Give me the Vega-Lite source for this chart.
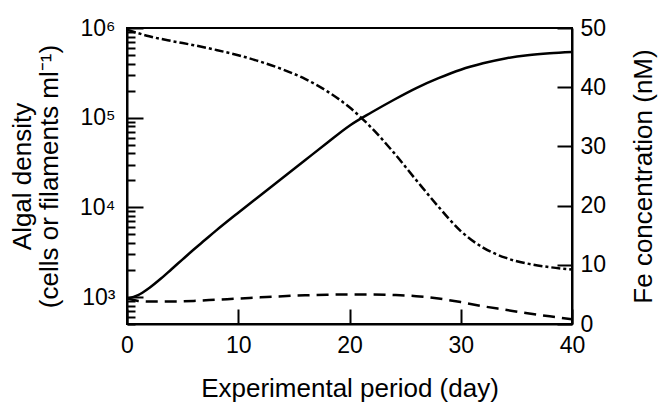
{
  "$schema": "https://vega.github.io/schema/vega-lite/v6.json",
  "width": 445,
  "height": 296,
  "autosize": "none",
  "padding": {"left": 127, "top": 28, "right": 87, "bottom": 79},
  "background": "white",
  "config": {
    "font": "Liberation Sans",
    "view": {"stroke": "black", "strokeWidth": 2},
    "axis": {
      "grid": false,
      "domainColor": "black",
      "domainWidth": 2,
      "tickColor": "black",
      "tickWidth": 2,
      "labelFont": "Liberation Sans",
      "labelFontSize": 23,
      "labelColor": "black",
      "titleFont": "Liberation Sans",
      "titleFontSize": 26,
      "titleFontWeight": "normal",
      "titleColor": "black",
      "labelFlush": false,
      "labelOverlap": false
    }
  },
  "datasets": {
    "algae": [
      {"day": 0, "density": 955},
      {"day": 1, "density": 1047},
      {"day": 2, "density": 1259},
      {"day": 3, "density": 1585},
      {"day": 4, "density": 2042},
      {"day": 5, "density": 2630},
      {"day": 6, "density": 3388},
      {"day": 7, "density": 4315},
      {"day": 8, "density": 5495},
      {"day": 10, "density": 8710},
      {"day": 12, "density": 13650},
      {"day": 14, "density": 21380},
      {"day": 16, "density": 33500},
      {"day": 18, "density": 52500},
      {"day": 20, "density": 81300},
      {"day": 22, "density": 114800},
      {"day": 24, "density": 158500},
      {"day": 26, "density": 213800},
      {"day": 28, "density": 275400},
      {"day": 30, "density": 342800},
      {"day": 32, "density": 404000},
      {"day": 34, "density": 458000},
      {"day": 36, "density": 497000},
      {"day": 38, "density": 523000},
      {"day": 40, "density": 540000}
    ],
    "fe": [
      {"day": 0, "series": "a", "fe": 49.7},
      {"day": 2, "series": "a", "fe": 48.6},
      {"day": 4, "series": "a", "fe": 47.8},
      {"day": 6, "series": "a", "fe": 47.1},
      {"day": 8, "series": "a", "fe": 46.3},
      {"day": 10, "series": "a", "fe": 45.4},
      {"day": 12, "series": "a", "fe": 44.3},
      {"day": 14, "series": "a", "fe": 43.0},
      {"day": 16, "series": "a", "fe": 41.4},
      {"day": 18, "series": "a", "fe": 39.3},
      {"day": 20, "series": "a", "fe": 36.6},
      {"day": 22, "series": "a", "fe": 33.1},
      {"day": 24, "series": "a", "fe": 28.9},
      {"day": 26, "series": "a", "fe": 24.3},
      {"day": 28, "series": "a", "fe": 19.8},
      {"day": 30, "series": "a", "fe": 15.7},
      {"day": 32, "series": "a", "fe": 12.9},
      {"day": 34, "series": "a", "fe": 11.2},
      {"day": 36, "series": "a", "fe": 10.2},
      {"day": 38, "series": "a", "fe": 9.6},
      {"day": 40, "series": "a", "fe": 9.2},
      {"day": 0, "series": "b", "fe": 4.3},
      {"day": 1, "series": "b", "fe": 3.9},
      {"day": 2, "series": "b", "fe": 3.8},
      {"day": 4, "series": "b", "fe": 3.8},
      {"day": 6, "series": "b", "fe": 3.9},
      {"day": 8, "series": "b", "fe": 4.1},
      {"day": 10, "series": "b", "fe": 4.3},
      {"day": 12, "series": "b", "fe": 4.5},
      {"day": 14, "series": "b", "fe": 4.7},
      {"day": 16, "series": "b", "fe": 4.85},
      {"day": 18, "series": "b", "fe": 4.95},
      {"day": 20, "series": "b", "fe": 5.0},
      {"day": 22, "series": "b", "fe": 5.0},
      {"day": 24, "series": "b", "fe": 4.9},
      {"day": 26, "series": "b", "fe": 4.7},
      {"day": 28, "series": "b", "fe": 4.3},
      {"day": 30, "series": "b", "fe": 3.7},
      {"day": 32, "series": "b", "fe": 3.0},
      {"day": 34, "series": "b", "fe": 2.4},
      {"day": 36, "series": "b", "fe": 1.8},
      {"day": 38, "series": "b", "fe": 1.3},
      {"day": 40, "series": "b", "fe": 0.8}
    ]
  },
  "layer": [
    {
      "data": {"name": "algae"},
      "mark": {"type": "line", "color": "black", "strokeWidth": 2.5, "interpolate": "monotone", "clip": true},
      "encoding": {
        "x": {
          "field": "day", "type": "quantitative",
          "scale": {"domain": [0, 40], "nice": false},
          "axis": {
            "values": [0, 10, 20, 30, 40],
            "tickSize": -15,
            "labelPadding": 25,
            "title": "Experimental period (day)",
            "titlePadding": 18
          }
        },
        "y": {
          "field": "density", "type": "quantitative",
          "scale": {"type": "log", "domain": [500, 1000000], "nice": false},
          "axis": {
            "values": [500, 600, 700, 800, 900, 1000, 2000, 3000, 4000, 5000, 6000, 7000, 8000, 9000, 10000, 20000, 30000, 40000, 50000, 60000, 70000, 80000, 90000, 100000, 200000, 300000, 400000, 500000, 600000, 700000, 800000, 900000, 1000000],
            "tickSize": {"condition": {"test": "datum.value == 1000 || datum.value == 10000 || datum.value == 100000 || datum.value == 1000000", "value": -16}, "value": -8},
            "labelPadding": 28,
            "labelExpr": "datum.value == 1000 ? '10³' : datum.value == 10000 ? '10⁴' : datum.value == 100000 ? '10⁵' : datum.value == 1000000 ? '10⁶' : ''",
            "title": ["Algal density", "(cells or filaments ml⁻¹)"],
            "titlePadding": 17,
            "titleLineHeight": 27
          }
        }
      }
    },
    {
      "data": {"name": "fe"},
      "mark": {"type": "line", "color": "black", "strokeWidth": 2.5, "interpolate": "monotone", "clip": true},
      "encoding": {
        "x": {"field": "day", "type": "quantitative"},
        "y": {
          "field": "fe", "type": "quantitative",
          "scale": {"domain": [0, 50], "nice": false},
          "axis": {
            "orient": "right",
            "values": [0, 10, 20, 30, 40, 50],
            "tickSize": -15,
            "labelPadding": 23,
            "labelAlign": "left",
            "title": "Fe concentration (nM)",
            "titleAngle": 270,
            "titlePadding": 51
          }
        },
        "strokeDash": {
          "field": "series", "type": "nominal",
          "scale": {"domain": ["a", "b"], "range": [[9, 3, 3, 3], [12, 7]]},
          "legend": null
        }
      }
    }
  ],
  "resolve": {"scale": {"y": "independent"}}
}
